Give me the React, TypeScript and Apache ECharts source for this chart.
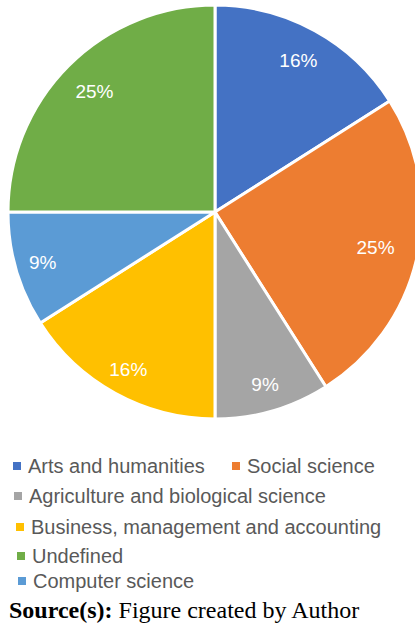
import React, { useEffect, useRef } from "react";
import * as echarts from "echarts";

const categories = [
  "Arts and humanities",
  "Social science",
  "Agriculture and biological science",
  "Business, management and accounting",
  "Computer science",
  "Undefined",
];
const shares = [16, 25, 9, 16, 9, 25];
const colors = ["#4472C4", "#ED7D31", "#A5A5A5", "#FFC000", "#5B9BD5", "#70AD47"];
// radial nudge of each percentage label (px), to follow the original placement
const labelNudge = [0, -8.5, 6.5, 7, 6.5, -2.5];
const legendOrder = [
  "Arts and humanities",
  "Social science",
  "Agriculture and biological science",
  "Business, management and accounting",
  "Undefined",
  "Computer science",
];
const legendPos = [
  [13, 456],
  [232, 456],
  [14, 486],
  [16, 517],
  [17, 546],
  [18, 571],
];
const sourceLabel = "Source(s):";
const sourceText = " Figure created by Author";

export default function App() {
  const ref = useRef<HTMLDivElement>(null);
  useEffect(() => {
    if (!ref.current) return;
    const chart = echarts.init(ref.current, null, { renderer: "svg" });
    const total = shares.reduce((a, b) => a + b, 0);
    let cum = 0;
    const labelData = categories.map((name, i) => {
      const mid = (cum + shares[i] / 2) / total;
      cum += shares[i];
      const th = mid * 2 * Math.PI;
      const s = labelNudge[i];
      return {
        name,
        value: shares[i],
        label: { offset: [s * Math.sin(th), -s * Math.cos(th)] },
      };
    });
    const data = categories.map((name, i) => ({
      name,
      value: shares[i],
      itemStyle: { color: colors[i] },
    }));
    const font = "'Liberation Sans', Arial, sans-serif";
    const serif = "'Liberation Serif', 'Times New Roman', serif";
    chart.setOption({
      animation: false,
      color: colors,
      legend: legendOrder.map((name, i) => ({
        data: [name],
        left: legendPos[i][0],
        top: legendPos[i][1],
        icon: "rect",
        itemWidth: 8,
        itemHeight: 8,
        padding: 0,
        selectedMode: false,
        itemStyle: { borderWidth: 0 },
        textStyle: {
          fontFamily: font,
          fontSize: 20,
          lineHeight: 20,
          color: "#595959",
          padding: [0, 0, 0, 2],
        },
      })),
      series: [
        {
          type: "pie",
          center: [215, 212],
          radius: [0, 207],
          startAngle: 90,
          clockwise: true,
          silent: true,
          data,
          label: { show: false },
          labelLine: { show: false },
          itemStyle: { borderColor: "#ffffff", borderWidth: 3 },
        },
        {
          type: "pie",
          center: [215, 212],
          radius: [133, 207],
          startAngle: 90,
          clockwise: true,
          silent: true,
          legendHoverLink: false,
          data: labelData,
          itemStyle: { color: "rgba(0,0,0,0)" },
          label: {
            show: true,
            position: "inside",
            formatter: (p: any) => p.value + "%",
            color: "#ffffff",
            fontFamily: font,
            fontSize: 19,
          },
          labelLine: { show: false },
        },
      ],
      graphic: [
        {
          type: "text",
          left: 9,
          top: 598,
          style: {
            rich: {
              b: { fontFamily: serif, fontWeight: "bold", fontSize: 24, fill: "#000" },
              r: { fontFamily: serif, fontSize: 24, fill: "#000" },
            },
            text: "{b|" + sourceLabel + "}{r|" + sourceText + "}",
          },
        },
      ],
    });
    return () => chart.dispose();
  }, []);
  return (
    <div
      ref={ref}
      style={{ position: "fixed", left: 0, top: 0, width: 415, height: 625, background: "#fff" }}
    />
  );
}
